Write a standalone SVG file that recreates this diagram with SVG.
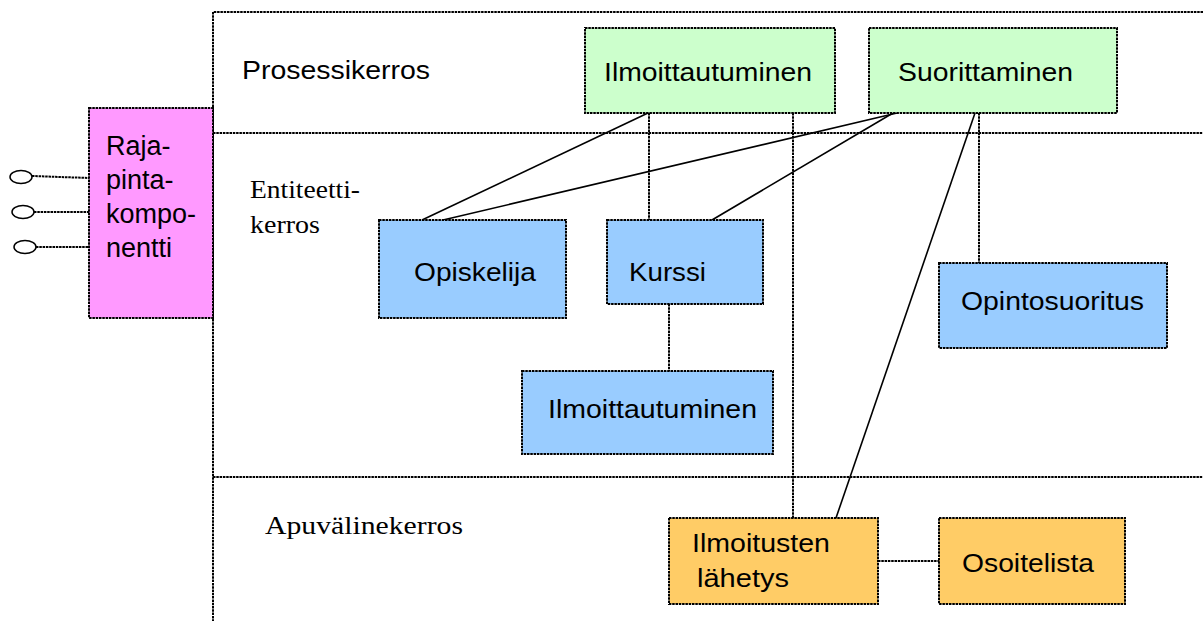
<svg xmlns="http://www.w3.org/2000/svg" width="1203" height="621" viewBox="0 0 1203 621">
  <style>
    .frame { fill: none; stroke: #000; stroke-width: 2; stroke-dasharray: 2.5 0.8; }
    .box { stroke: #000; stroke-width: 2; stroke-dasharray: 2.5 0.8; }
    .proc { fill: #ccffcc; }
    .ent { fill: #99ccff; }
    .util { fill: #ffcc66; }
    .iface { fill: #ff99ff; }
    .lbl { font-family: "Liberation Sans", Arial, sans-serif; font-size: 26px; fill: #000; }
    .big { font-size: 27px; }
    .layer { font-family: "Liberation Serif", "Times New Roman", serif; font-size: 26px; fill: #000; }
    .conn line { stroke: #000; stroke-width: 1.6; }
    .conn .dot { stroke-width: 2; stroke-dasharray: 2.5 0.8; }
    .port { fill: #fff; stroke: #000; stroke-width: 1.5; }
  </style>

  <rect width="1203" height="621" fill="#fff"/>

  <!-- layer frame -->
  <g id="layers">
    <path class="frame" d="M1203 12 H213 V621"/>
    <line class="frame" x1="213" y1="133" x2="1203" y2="133"/>
    <line class="frame" x1="213" y1="477" x2="1203" y2="477"/>
    <text class="lbl" x="242" y="79" textLength="188" lengthAdjust="spacingAndGlyphs">Prosessikerros</text>
    <text class="layer" x="250" y="198" textLength="110" lengthAdjust="spacingAndGlyphs">Entiteetti-</text>
    <text class="layer" x="250" y="233" textLength="70" lengthAdjust="spacingAndGlyphs">kerros</text>
    <text class="layer" x="265" y="534" textLength="198" lengthAdjust="spacingAndGlyphs">Apuvälinekerros</text>
  </g>

  <!-- connectors -->
  <g id="connectors" class="conn">
    <line x1="648" y1="113" x2="422" y2="220"/>
    <line x1="897" y1="113" x2="443" y2="220"/>
    <line class="dot" x1="649" y1="113" x2="649" y2="220"/>
    <line x1="893" y1="113" x2="712" y2="220"/>
    <line class="dot" x1="793" y1="113" x2="793" y2="518"/>
    <line x1="975" y1="113" x2="836" y2="518"/>
    <line class="dot" x1="979" y1="113" x2="979" y2="263"/>
    <line class="dot" x1="669" y1="304" x2="669" y2="371"/>
    <line class="dot" x1="878" y1="561" x2="939" y2="561"/>
    <line class="dot" x1="32" y1="176" x2="89" y2="178"/>
    <line class="dot" x1="34" y1="212" x2="89" y2="212"/>
    <line class="dot" x1="36" y1="247" x2="89" y2="247"/>
  </g>

  <!-- interface component with ports -->
  <g id="rajapintakomponentti">
    <rect class="box iface" x="89" y="108" width="124" height="210"/>
    <text class="lbl big" x="106" y="155">Raja-</text>
    <text class="lbl big" x="106" y="189">pinta-</text>
    <text class="lbl big" x="106" y="223">kompo-</text>
    <text class="lbl big" x="106" y="257">nentti</text>
    <ellipse class="port" cx="21" cy="177" rx="11" ry="6.5"/>
    <ellipse class="port" cx="23" cy="212" rx="11" ry="6.5"/>
    <ellipse class="port" cx="25" cy="247" rx="11" ry="6.5"/>
  </g>

  <!-- process layer -->
  <g id="proc-ilmoittautuminen">
    <rect class="box proc" x="585" y="28" width="250" height="85"/>
    <text class="lbl" x="604" y="81" textLength="208" lengthAdjust="spacingAndGlyphs">Ilmoittautuminen</text>
  </g>
  <g id="proc-suorittaminen">
    <rect class="box proc" x="869" y="28" width="248" height="85"/>
    <text class="lbl" x="898" y="81" textLength="175" lengthAdjust="spacingAndGlyphs">Suorittaminen</text>
  </g>

  <!-- entity layer -->
  <g id="ent-opiskelija">
    <rect class="box ent" x="379" y="220" width="187" height="98"/>
    <text class="lbl" x="414" y="281" textLength="122" lengthAdjust="spacingAndGlyphs">Opiskelija</text>
  </g>
  <g id="ent-kurssi">
    <rect class="box ent" x="607" y="220" width="156" height="84"/>
    <text class="lbl" x="629" y="281" textLength="77" lengthAdjust="spacingAndGlyphs">Kurssi</text>
  </g>
  <g id="ent-opintosuoritus">
    <rect class="box ent" x="939" y="263" width="228" height="85"/>
    <text class="lbl" x="961" y="310" textLength="183" lengthAdjust="spacingAndGlyphs">Opintosuoritus</text>
  </g>
  <g id="ent-ilmoittautuminen">
    <rect class="box ent" x="522" y="371" width="251" height="83"/>
    <text class="lbl" x="548" y="418" textLength="209" lengthAdjust="spacingAndGlyphs">Ilmoittautuminen</text>
  </g>

  <!-- utility layer -->
  <g id="util-ilmoitusten-lahetys">
    <rect class="box util" x="669" y="518" width="209" height="86"/>
    <text class="lbl" x="692" y="552" textLength="138" lengthAdjust="spacingAndGlyphs">Ilmoitusten</text>
    <text class="lbl" x="697" y="587" textLength="92" lengthAdjust="spacingAndGlyphs">lähetys</text>
  </g>
  <g id="util-osoitelista">
    <rect class="box util" x="939" y="518" width="186" height="86"/>
    <text class="lbl" x="962" y="572" textLength="132" lengthAdjust="spacingAndGlyphs">Osoitelista</text>
  </g>
</svg>
